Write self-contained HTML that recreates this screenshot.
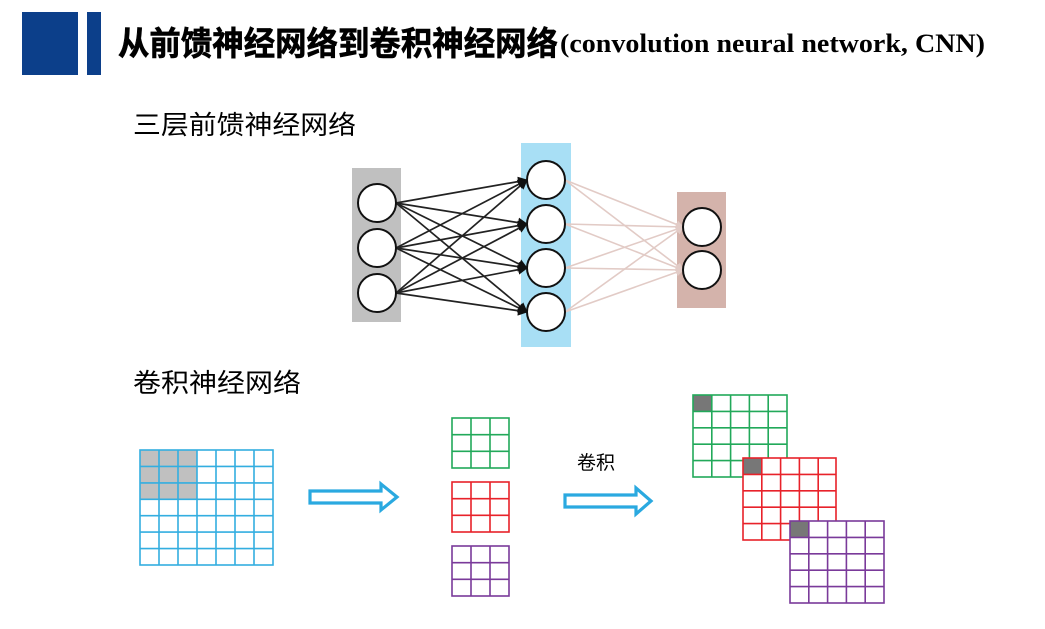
<!DOCTYPE html>
<html><head><meta charset="utf-8"><style>
html,body{margin:0;padding:0;background:#fff;}
svg{display:block;}
</style></head><body>
<svg width="1045" height="629" viewBox="0 0 1045 629" xmlns="http://www.w3.org/2000/svg">
<defs>
<marker id="ab" markerWidth="10" markerHeight="10" refX="9" refY="5" orient="auto" markerUnits="userSpaceOnUse"><path d="M0,0 L10,5 L0,10 z" fill="#111"/></marker>
<marker id="ap" markerWidth="8" markerHeight="8" refX="7" refY="4" orient="auto" markerUnits="userSpaceOnUse"><path d="M0,0 L8,4 L0,8 z" fill="#e2cbc6"/></marker>
</defs>
<rect x="22" y="12" width="56" height="63" fill="#0c3f8a"/>
<rect x="87" y="12" width="14" height="63" fill="#0c3f8a"/>
<text x="118" y="55" font-family="Liberation Sans, Noto Sans CJK SC, sans-serif" font-weight="bold" font-size="33" textLength="440" lengthAdjust="spacingAndGlyphs" stroke="#000" stroke-width="0.6">从前馈神经网络到卷积神经网络</text>
<text x="560" y="52" font-family="Liberation Serif, serif" font-weight="bold" font-size="26" textLength="425" lengthAdjust="spacingAndGlyphs">(convolution neural network, CNN)</text>
<text x="133" y="134" font-family="Liberation Sans, Noto Sans CJK SC, sans-serif" font-size="26" textLength="223" lengthAdjust="spacingAndGlyphs">三层前馈神经网络</text>
<text x="133" y="392" font-family="Liberation Sans, Noto Sans CJK SC, sans-serif" font-size="26" textLength="168" lengthAdjust="spacingAndGlyphs">卷积神经网络</text>

<rect x="352" y="168" width="49" height="154" fill="#c0c0c0"/>
<rect x="521" y="143" width="50" height="204" fill="#a8dff5"/>
<rect x="677" y="192" width="49" height="116" fill="#d4b3ab"/>

<g stroke="#222" stroke-width="1.7" marker-end="url(#ab)">
<line x1="396" y1="203" x2="527" y2="180"/><line x1="396" y1="203" x2="527" y2="224"/><line x1="396" y1="203" x2="527" y2="268"/><line x1="396" y1="203" x2="527" y2="312"/>
<line x1="396" y1="248" x2="527" y2="180"/><line x1="396" y1="248" x2="527" y2="224"/><line x1="396" y1="248" x2="527" y2="268"/><line x1="396" y1="248" x2="527" y2="312"/>
<line x1="396" y1="293" x2="527" y2="180"/><line x1="396" y1="293" x2="527" y2="224"/><line x1="396" y1="293" x2="527" y2="268"/><line x1="396" y1="293" x2="527" y2="312"/>
</g>
<g stroke="#e2cbc6" stroke-width="1.6" marker-end="url(#ap)">
<line x1="565" y1="180" x2="683" y2="227"/><line x1="565" y1="180" x2="683" y2="270"/>
<line x1="565" y1="224" x2="683" y2="227"/><line x1="565" y1="224" x2="683" y2="270"/>
<line x1="565" y1="268" x2="683" y2="227"/><line x1="565" y1="268" x2="683" y2="270"/>
<line x1="565" y1="312" x2="683" y2="227"/><line x1="565" y1="312" x2="683" y2="270"/>
</g>
<g fill="#fff" stroke="#111" stroke-width="2">
<circle cx="377" cy="203" r="19"/><circle cx="377" cy="248" r="19"/><circle cx="377" cy="293" r="19"/>
<circle cx="546" cy="180" r="19"/><circle cx="546" cy="224" r="19"/><circle cx="546" cy="268" r="19"/><circle cx="546" cy="312" r="19"/>
<circle cx="702" cy="227" r="19"/><circle cx="702" cy="270" r="19"/>
</g>

<rect x="140" y="450" width="57" height="49" fill="#c0c0c0"/>
<g stroke="#33aee0" stroke-width="1.6" fill="none">
<rect x="140" y="450" width="133" height="115"/>
<path d="M159 450V565M178 450V565M197 450V565M216 450V565M235 450V565M254 450V565M140 466.4H273M140 482.9H273M140 499.3H273M140 515.7H273M140 532.1H273M140 548.6H273"/>
</g>
<g stroke="#2aa9e0" stroke-width="3.2" fill="#fff" stroke-linejoin="miter">
<path d="M310 491H381V484L397 497L381 510V503H310Z"/>
<path d="M565 495H636V488L651 501L636 514V507H565Z"/>
</g>
<g stroke="#22a95a" stroke-width="1.6" fill="none"><rect x="452" y="418" width="57" height="50"/><path d="M471 418V468M490 418V468M452 434.7H509M452 451.3H509"/></g>
<g stroke="#e8222a" stroke-width="1.6" fill="none"><rect x="452" y="482" width="57" height="50"/><path d="M471 482V532M490 482V532M452 498.7H509M452 515.3H509"/></g>
<g stroke="#7a3a9a" stroke-width="1.6" fill="none"><rect x="452" y="546" width="57" height="50"/><path d="M471 546V596M490 546V596M452 562.7H509M452 579.3H509"/></g>

<text x="577" y="469" font-family="Liberation Sans, Noto Sans CJK SC, sans-serif" font-size="19">卷积</text>

<rect x="693" y="395" width="94" height="82" fill="#fff"/>
<rect x="693" y="395" width="19" height="16" fill="#777"/>
<g stroke="#22a95a" stroke-width="1.6" fill="none"><rect x="693" y="395" width="94" height="82"/><path d="M711.8 395V477M730.6 395V477M749.4 395V477M768.2 395V477M693 411.4H787M693 427.8H787M693 444.2H787M693 460.6H787"/></g>
<rect x="743" y="458" width="93" height="82" fill="#fff"/>
<rect x="743" y="458" width="19" height="16" fill="#777"/>
<g stroke="#e8222a" stroke-width="1.6" fill="none"><rect x="743" y="458" width="93" height="82"/><path d="M761.8 458V540M780.6 458V540M799.4 458V540M818.2 458V540M743 474.4H836M743 490.8H836M743 507.2H836M743 523.6H836"/></g>
<rect x="790" y="521" width="94" height="82" fill="#fff"/>
<rect x="790" y="521" width="19" height="16" fill="#777"/>
<g stroke="#7a3a9a" stroke-width="1.6" fill="none"><rect x="790" y="521" width="94" height="82"/><path d="M808.8 521V603M827.6 521V603M846.4 521V603M865.2 521V603M790 537.4H884M790 553.8H884M790 570.2H884M790 586.6H884"/></g>
</svg>
</body></html>
